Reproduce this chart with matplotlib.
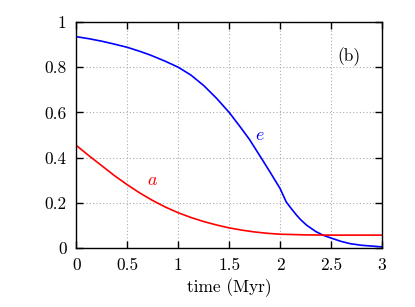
import matplotlib
matplotlib.use("Agg")
import matplotlib.pyplot as plt

plt.rcParams['font.family'] = 'serif'
plt.rcParams['font.serif'] = ['cmr10']
plt.rcParams['mathtext.fontset'] = 'cm'
plt.rcParams['axes.formatter.use_mathtext'] = True

t_e = [0.0, 0.125, 0.25, 0.375, 0.5, 0.625, 0.725, 0.875, 1.0, 1.125, 1.25, 1.375,
       1.5, 1.61, 1.7, 1.818, 1.9, 2.0, 2.06, 2.1, 2.16, 2.2, 2.26, 2.35, 2.42, 2.5,
       2.6, 2.69, 2.8, 3.0]
e_vals = [0.935, 0.926, 0.915, 0.902, 0.888, 0.870, 0.854, 0.826, 0.800, 0.765,
          0.719, 0.663, 0.600, 0.535, 0.480, 0.396, 0.337, 0.263, 0.204, 0.180,
          0.146, 0.126, 0.101, 0.073, 0.057, 0.044, 0.029, 0.019, 0.012, 0.005]

t_a = [0.0, 0.125, 0.25, 0.375, 0.5, 0.625, 0.75, 0.875, 1.0, 1.125, 1.25, 1.375,
       1.5, 1.625, 1.75, 1.875, 2.0, 2.25, 2.5, 3.0]
a_vals = [0.454, 0.408, 0.364, 0.320, 0.280, 0.243, 0.210, 0.181, 0.156, 0.135,
          0.117, 0.102, 0.089, 0.079, 0.071, 0.065, 0.061, 0.058, 0.057, 0.057]

xticks = [0, 0.5, 1, 1.5, 2, 2.5, 3]
xticklabels = ['0', '0.5', '1', '1.5', '2', '2.5', '3']
yticks = [0, 0.2, 0.4, 0.6, 0.8, 1]
yticklabels = ['0', '0.2', '0.4', '0.6', '0.8', '1']

fig = plt.figure(figsize=(4.15, 3.07), dpi=100)
ax = fig.add_axes([76.3/415, 59/307, (382-76.3)/415, (248-22)/307])

ax.plot(t_e, e_vals, color='#0000ff', lw=1.2)
ax.plot(t_a, a_vals, color='#ff0000', lw=1.2)

ax.set_xlim(0, 3)
ax.set_ylim(0, 1)
ax.set_xticks(xticks)
ax.set_xticklabels(xticklabels)
ax.set_yticks(yticks)
ax.set_yticklabels(yticklabels)
ax.tick_params(direction='in', length=5, width=1, top=True, right=True,
               labelsize=12.5, pad=7)
ax.grid(True, color='#aaaaaa', linestyle=(0, (1, 2)), linewidth=0.8)
for s in ax.spines.values():
    s.set_linewidth(1.0)

ax.set_xlabel('time (Myr)', fontsize=12.5, labelpad=4)
ax.text(1.80, 0.50, r'$e$', color='#0000ff', fontsize=13, ha='center', va='center')
ax.text(0.75, 0.30, r'$a$', color='#ff0000', fontsize=13, ha='center', va='center')
ax.text(2.68, 0.845, '(b)', fontsize=12.5, ha='center', va='center')

fig.savefig('out.png', dpi=100)
